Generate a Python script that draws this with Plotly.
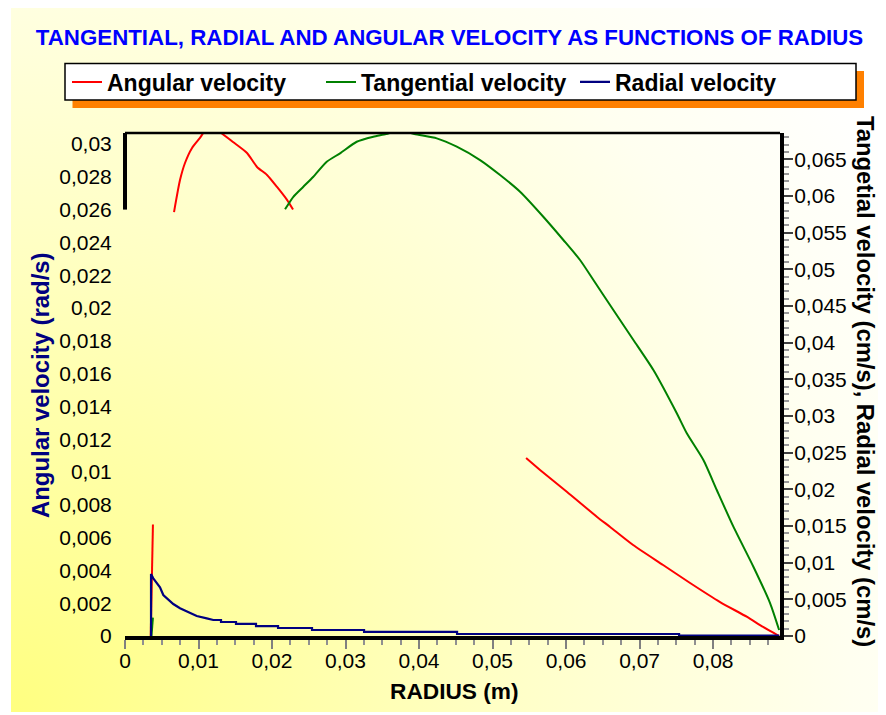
import base64
import plotly.graph_objects as go

# ---------------- data ----------------
# Angular velocity (rad/s), left axis - visible pieces only
red_spike_r = [0.0035, 0.0038]
red_spike_w = [0.0, 0.0068]
red_arc_r = [0.00667, 0.00748, 0.00816, 0.00912, 0.0102, 0.0108, 0.0120, 0.0130,
             0.01469, 0.0166, 0.01796, 0.01932, 0.02068, 0.02204, 0.02286]
red_arc_w = [0.02585, 0.0278, 0.02884, 0.02976, 0.03037, 0.03075, 0.0310, 0.0307,
             0.03012, 0.02945, 0.0286, 0.02811, 0.02738, 0.02659, 0.0260]
red_tail_r = [0.05456, 0.05646, 0.06014, 0.06422, 0.06599, 0.06912, 0.0732,
              0.07687, 0.08095, 0.08463, 0.0868, 0.08898]
red_tail_w = [0.01085, 0.01012, 0.00878, 0.00726, 0.00665, 0.00555, 0.00433,
              0.00323, 0.00207, 0.00116, 0.00055, 0.0]

# Tangential velocity (cm/s), right axis
green_spike_r = [0.0036, 0.0038]
green_spike_v = [0.0, 0.0025]
green_arc_r = [0.02177, 0.0229, 0.02426, 0.02562, 0.02744, 0.02925, 0.03152, 0.03378,
               0.03551, 0.0374, 0.03936, 0.04241, 0.04513, 0.0483, 0.05102, 0.05374,
               0.0569, 0.05963, 0.0619, 0.06372, 0.06643, 0.06916, 0.07188, 0.07506,
               0.07642, 0.07868, 0.0805, 0.08276, 0.08548, 0.08776, 0.08898]
green_arc_v = [0.05819, 0.0599, 0.06127, 0.06264, 0.06468, 0.06583, 0.06741, 0.06809,
               0.06846, 0.0690, 0.06846, 0.06787, 0.06673, 0.06491, 0.06287, 0.06059,
               0.05718, 0.05401, 0.05128, 0.04855, 0.04446, 0.04037, 0.03627, 0.03037,
               0.02764, 0.024, 0.01991, 0.01491, 0.00945, 0.00446, 0.00082]

# Radial velocity (cm/s), right axis
blue_r = [0.00354, 0.00354, 0.00385, 0.00476, 0.00521, 0.00657, 0.00748, 0.00884,
          0.00976, 0.01112, 0.01201, 0.01306, 0.01306, 0.0151, 0.0151, 0.01782,
          0.01782, 0.02082, 0.02082, 0.02544, 0.02544, 0.03252, 0.03252, 0.04517,
          0.04517, 0.07537, 0.07537, 0.0890]
blue_v = [0.0, 0.00845, 0.00787, 0.00664, 0.00559, 0.00436, 0.00378, 0.0031,
          0.00273, 0.00241, 0.00218, 0.00218, 0.00191, 0.00191, 0.00164, 0.00164,
          0.00136, 0.00136, 0.00109, 0.00109, 0.00082, 0.00082, 0.00055, 0.00055,
          0.00027, 0.00027, 0.00007, 0.00007]

# axis settings
x_range = [0, 0.0891]
left_range = [0, 0.03067]
right_range = [0, 0.0686]
left_label_vals = [i * 0.002 for i in range(16)]
left_major_visible = [0, 0.002, 0.004, 0.006, 0.008, 0.026, 0.028, 0.03]
left_minor_visible = [i * 0.0005 for i in range(0, 19)] + [0.026 + i * 0.0005 for i in range(0, 10)]

title_text = "TANGENTIAL, RADIAL AND ANGULAR VELOCITY AS FUNCTIONS OF RADIUS"
x_title = "RADIUS (m)"
left_title = "Angular velocity (rad/s)"
right_title = "Tangetial velocity (cm/s), Radial velocity (cm/s)"
names = ["Angular velocity", "Tangential velocity", "Radial velocity"]


def join(*parts):
    out = []
    for i, p in enumerate(parts):
        if i:
            out.append(None)
        out.extend(p)
    return out


FONT = "Liberation Sans, Arial, sans-serif"

fig = go.Figure()
fig.add_trace(go.Scatter(x=join(red_spike_r, red_arc_r, red_tail_r),
                         y=join(red_spike_w, red_arc_w, red_tail_w),
                         mode="lines", name=names[0], yaxis="y",
                         line=dict(color="#FF0000", width=2, shape="spline", smoothing=0.6)))
fig.add_trace(go.Scatter(x=join(green_spike_r, green_arc_r),
                         y=join(green_spike_v, green_arc_v),
                         mode="lines", name=names[1], yaxis="y2",
                         line=dict(color="#008000", width=2, shape="spline", smoothing=0.6)))
fig.add_trace(go.Scatter(x=blue_r, y=blue_v, mode="lines", name=names[2], yaxis="y2",
                         line=dict(color="#000080", width=2.2)))

# page offset (browser body margin) and figure geometry
OFF = 8
FW, FH = 886 - OFF, 715 - OFF
L, R, T, B = 125 - OFF, 106, 133 - OFF, 79
PW, PH = FW - L - R, FH - T - B


def px(xr):
    """reference x pixel -> paper coordinate"""
    return (xr - OFF - L) / PW


def py(yr):
    """reference y pixel -> paper coordinate"""
    return (FH - B - (yr - OFF)) / PH


# gradient background as an svg image
W, H = 875, 704
svg = (f'<svg xmlns="http://www.w3.org/2000/svg" width="{W}" height="{H}" viewBox="0 0 {W} {H}" preserveAspectRatio="none">'
       f'<defs><radialGradient id="g" gradientUnits="userSpaceOnUse" cx="0" cy="{H}" r="1050">'
       '<stop offset="0" stop-color="#FFFF80"/><stop offset="0.45" stop-color="#FFFFC4"/>'
       '<stop offset="0.8" stop-color="#FFFFF0"/><stop offset="1" stop-color="#FFFFFF"/>'
       f'</radialGradient></defs><rect width="{W}" height="{H}" fill="url(#g)"/></svg>')
src = "data:image/svg+xml;base64," + base64.b64encode(svg.encode()).decode()

fig.add_layout_image(dict(source=src, xref="paper", yref="paper", x=px(11), y=py(8),
                          sizex=W / PW, sizey=H / PH, sizing="stretch",
                          xanchor="left", yanchor="top", layer="below"))

shapes = [
    # legend shadow and box
    dict(type="rect", xref="paper", yref="paper", x0=px(72.5), x1=px(864), y0=py(108), y1=py(71),
         fillcolor="#FF8000", line=dict(width=0), layer="above"),
    dict(type="rect", xref="paper", yref="paper", x0=px(65), x1=px(856), y0=py(100), y1=py(63.5),
         fillcolor="white", line=dict(color="black", width=1.5), layer="above"),
    # top frame line
    dict(type="line", xref="paper", yref="paper", x0=0, x1=1, y0=1, y1=1,
         line=dict(color="black", width=2.5)),
    # visible part of the left axis line
    dict(type="line", xref="paper", yref="y", x0=0, x1=0, y0=0.026, y1=left_range[1],
         line=dict(color="black", width=4)),
]

fig.update_layout(
    width=FW, height=FH,
    margin=dict(l=L, r=R, t=T, b=B, autoexpand=False),
    paper_bgcolor="white", plot_bgcolor="rgba(0,0,0,0)",
    separators=",.",
    font=dict(family=FONT, color="black", size=21),
    title=dict(text=title_text, x=(449.5 - OFF) / FW, xanchor="center",
               y=1 - (37 - OFF) / FH, yanchor="middle",
               font=dict(family=FONT, size=22.3, color="#0000FF", weight="bold")),
    showlegend=True,
    legend=dict(orientation="h", x=px(67), xanchor="left", y=py(82), yanchor="middle",
                bgcolor="rgba(0,0,0,0)", borderwidth=0,
                font=dict(family=FONT, size=23, color="black", weight="bold"),
                entrywidth=209, entrywidthmode="pixels", itemwidth=30),
    xaxis=dict(range=x_range, tick0=0, dtick=0.01, tickformat=".2~f",
               ticks="outside", ticklen=9, tickwidth=2, tickcolor="#808080",
               minor=dict(dtick=0.0025, ticks="outside", ticklen=5, tickwidth=2, tickcolor="#909090"),
               showline=True, linewidth=4, linecolor="black", showgrid=False, zeroline=False,
               tickfont=dict(size=21), ticklabelstandoff=-6),
    yaxis=dict(range=left_range, tickmode="array", tickvals=left_label_vals, tickformat=".3~f",
               ticks="outside", ticklen=11, tickcolor="rgba(0,0,0,0)", showline=False,
               showgrid=False, zeroline=False, tickfont=dict(size=21), ticklabelstandoff=-3),
    yaxis3=dict(range=left_range, overlaying="y", side="left", tickmode="array",
                tickvals=left_major_visible, showticklabels=False, ticks="outside",
                ticklen=12, tickwidth=2, tickcolor="#555555",
                minor=dict(tickmode="array", tickvals=left_minor_visible, ticks="outside",
                           ticklen=7, tickwidth=2, tickcolor="#999999"),
                showline=False, showgrid=False, zeroline=False),
    yaxis2=dict(range=right_range, overlaying="y", side="right", tick0=0, dtick=0.005,
                tickformat=".3~f", ticks="outside", ticklen=9, tickwidth=2, tickcolor="#404040",
                minor=dict(dtick=0.001, ticks="outside", ticklen=5, tickwidth=2, tickcolor="#999999"),
                showline=True, linewidth=4, linecolor="black", showgrid=False, zeroline=False,
                tickfont=dict(size=21), ticklabelstandoff=-3),
    shapes=shapes,
    annotations=[
        dict(text=x_title, xref="paper", yref="paper", x=px(454), y=py(691), xanchor="center",
             yanchor="middle", showarrow=False, font=dict(family=FONT, size=22.7, weight="bold")),
        dict(text=left_title, xref="paper", yref="paper", x=px(40), y=py(385), xanchor="center",
             yanchor="middle", textangle=-90, showarrow=False,
             font=dict(family=FONT, size=23.9, color="#000080", weight="bold")),
        dict(text=right_title, xref="paper", yref="paper", x=px(866), y=py(381), xanchor="center",
             yanchor="middle", textangle=90, showarrow=False,
             font=dict(family=FONT, size=23.8, color="black", weight="bold")),
    ],
)

fig.write_html("out.html")
